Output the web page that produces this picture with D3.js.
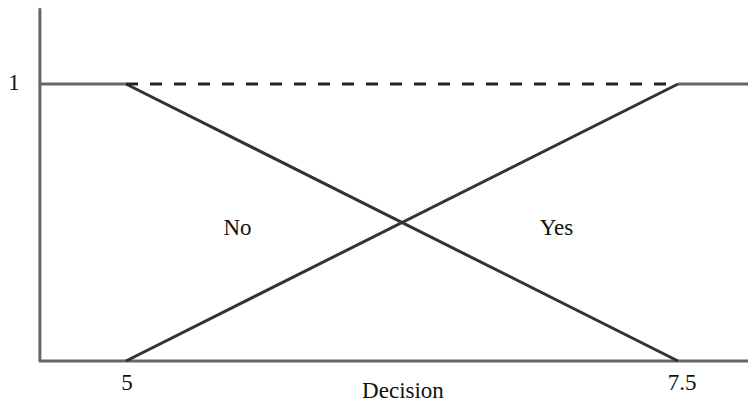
<!DOCTYPE html>
<html>
<head>
<meta charset="utf-8">
<script src="https://cdn.jsdelivr.net/npm/d3@7"></script>
<style>
  body { margin: 0; background: #fff; }
  text { font-family: "Liberation Serif", "Times New Roman", serif; font-size: 23px; fill: #111; }
</style>
</head>
<body>
<svg id="chart" width="748" height="404"></svg>
<script>
// membership functions for the decision variable
const domainX = [4.61, 7.82];
const tickValues = [5, 7.5];
const tickLabels = ["5", "7.5"];
const noPoints = [[4.61, 1], [5, 1], [7.5, 0]];
const yesPoints = [[5, 0], [7.5, 1], [7.82, 1]];
const dashPoints = [[5, 1], [7.5, 1]];
const setLabels = [{ name: "No", x: 5.505, y: 0.455 }, { name: "Yes", x: 6.95, y: 0.455 }];

const svg = d3.select("#chart");

const x = d3.scaleLinear().domain([5, 7.5]).range([126, 678]);
const y = d3.scaleLinear().domain([0, 1]).range([361, 84]);

const line = d3.line().x(d => x(d[0])).y(d => y(d[1]));

// axes
svg.append("path")
    .attr("d", line([[domainX[0], 1.27], [domainX[0], 0], [domainX[1], 0]]))
    .attr("fill", "none")
    .attr("stroke", "#666")
    .attr("stroke-width", 3)
    .attr("stroke-linejoin", "round")
    .attr("stroke-linecap", "round");

// flat parts (grey) and slopes (dark)
svg.append("path")
    .attr("d", line(noPoints.slice(0, 2)))
    .attr("fill", "none").attr("stroke", "#666").attr("stroke-width", 3);
svg.append("path")
    .attr("d", line(yesPoints.slice(1)))
    .attr("fill", "none").attr("stroke", "#666").attr("stroke-width", 3);

svg.append("path")
    .attr("d", line(noPoints.slice(1)))
    .attr("fill", "none").attr("stroke", "#333").attr("stroke-width", 3);
svg.append("path")
    .attr("d", line(yesPoints.slice(0, 2)))
    .attr("fill", "none").attr("stroke", "#333").attr("stroke-width", 3);

svg.append("path")
    .attr("d", line(dashPoints))
    .attr("fill", "none")
    .attr("stroke", "#222")
    .attr("stroke-width", 3)
    .attr("stroke-dasharray", "12,12");

// tick labels
svg.selectAll(".tick")
    .data(tickValues)
    .enter().append("text")
    .attr("x", (d, i) => x(d) + (i == 0 ? 1 : 4))
    .attr("y", 390)
    .attr("text-anchor", "middle")
    .text((d, i) => tickLabels[i]);

svg.append("text")
    .attr("x", 14).attr("y", 90)
    .attr("text-anchor", "middle")
    .text("1");

svg.append("text")
    .attr("x", 403).attr("y", 398)
    .attr("text-anchor", "middle")
    .text("Decision");

svg.selectAll(".set")
    .data(setLabels)
    .enter().append("text")
    .attr("x", d => x(d.x))
    .attr("y", d => y(d.y))
    .attr("text-anchor", "middle")
    .text(d => d.name);
</script>
</body>
</html>
